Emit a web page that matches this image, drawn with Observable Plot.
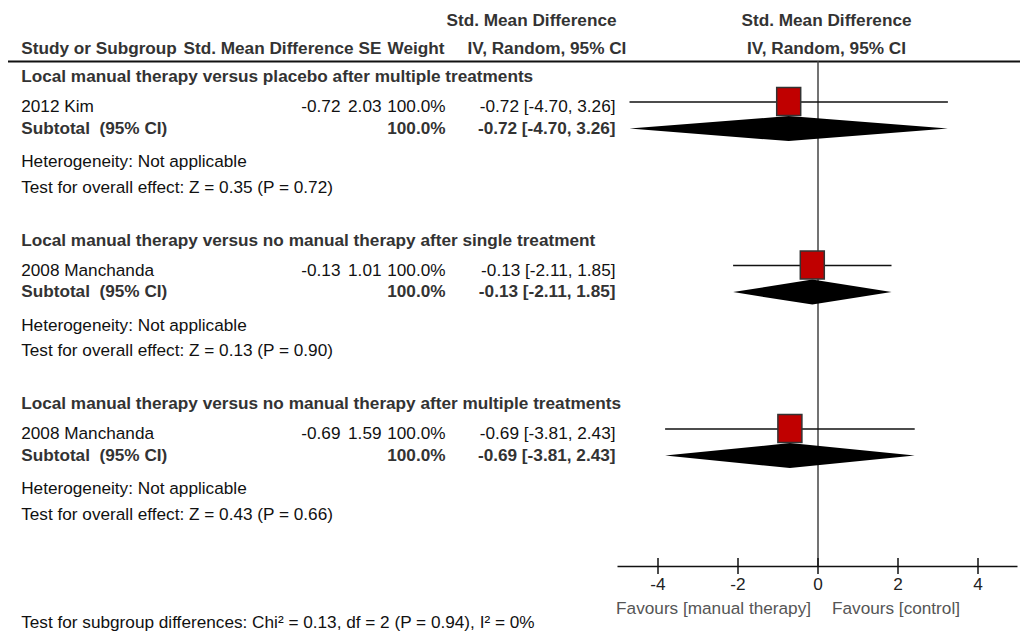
<!DOCTYPE html>
<html><head><meta charset="utf-8">
<script src="https://cdn.jsdelivr.net/npm/d3@7"></script>
<script src="https://cdn.jsdelivr.net/npm/@observablehq/plot@0.6"></script>
<style>body{margin:0;background:#fff}svg{display:block}</style>
</head><body><div id="chart"></div>
<script>
// ---------- data ----------
const groupTitles = [
  "Local manual therapy versus placebo after multiple treatments",
  "Local manual therapy versus no manual therapy after single treatment",
  "Local manual therapy versus no manual therapy after multiple treatments"
];
const studyNames = ["2012 Kim", "2008 Manchanda", "2008 Manchanda"];
const studySMD = [-0.72, -0.13, -0.69];
const studySE = [2.03, 1.01, 1.59];
const studyWeight = [100.0, 100.0, 100.0];
const studyLow = [-4.70, -2.11, -3.81];
const studyHigh = [3.26, 1.85, 2.43];
const subtotalWeight = [100.0, 100.0, 100.0];
const subtotalSMD = [-0.72, -0.13, -0.69];
const subtotalLow = [-4.70, -2.11, -3.81];
const subtotalHigh = [3.26, 1.85, 2.43];
const heterogeneity = ["Not applicable", "Not applicable", "Not applicable"];
const overallZ = [0.35, 0.13, 0.43];
const overallP = [0.72, 0.90, 0.66];
const axisTicks = [-4, -2, 0, 2, 4];
const axisDomain = [-5, 5];
const favoursLeft = "Favours [manual therapy]";
const favoursRight = "Favours [control]";
const subgroupChi2 = 0.13, subgroupDf = 2, subgroupP = 0.94, subgroupI2 = 0;

// ---------- layout ----------
const W = 1020, H = 633, LEFT = 8;
const FONT = "'Liberation Sans', Arial, sans-serif", FS = 17.2;
const ROW = {h1: 20, h2: 48, rule: 61, first: 76, step: 163.5,
  study: 30, ciLine: 25.5, subtotal: 51.5, diamond: 52.6, het: 85, test: 110.5,
  axis: 566, tickLabel: 584, favours: 608, footer: 622};
const COL = {name: 20.7, smd: 340, se: 381, weight: 445, ci: 615,
  hSmd: 183, hSE: 358, hWeight: 387, hCI1: 446, hCI2: 467, hPlot: 826};
const f2 = v => v.toFixed(2);
const pct = v => v.toFixed(1) + "%";
const ciText = (e, l, h) => `${f2(e)} [${f2(l)}, ${f2(h)}]`;

const cells = [];
const add = (col, anchor, y, text, bold) => cells.push({col, anchor, y, text, bold});
add("hCI1", "start", ROW.h1, "Std. Mean Difference", true);
add("hPlot", "middle", ROW.h1, "Std. Mean Difference", true);
add("name", "start", ROW.h2, "Study or Subgroup", true);
add("hSmd", "start", ROW.h2, "Std. Mean Difference", true);
add("hSE", "start", ROW.h2, "SE", true);
add("hWeight", "start", ROW.h2, "Weight", true);
add("hCI2", "start", ROW.h2, "IV, Random, 95% CI", true);
add("hPlot", "middle", ROW.h2, "IV, Random, 95% CI", true);

const studies = [], subtotals = [];
groupTitles.forEach((t, g) => {
  const top = ROW.first + g * ROW.step;
  add("name", "start", top, t, true);
  add("name", "start", top + ROW.study, studyNames[g], false);
  add("smd", "end", top + ROW.study, f2(studySMD[g]), false);
  add("se", "end", top + ROW.study, f2(studySE[g]), false);
  add("weight", "end", top + ROW.study, pct(studyWeight[g]), false);
  add("ci", "end", top + ROW.study, ciText(studySMD[g], studyLow[g], studyHigh[g]), false);
  add("name", "start", top + ROW.subtotal, "Subtotal  (95% CI)", true);
  add("weight", "end", top + ROW.subtotal, pct(subtotalWeight[g]), true);
  add("ci", "end", top + ROW.subtotal, ciText(subtotalSMD[g], subtotalLow[g], subtotalHigh[g]), true);
  add("name", "start", top + ROW.het, "Heterogeneity: " + heterogeneity[g], false);
  add("name", "start", top + ROW.test, `Test for overall effect: Z = ${f2(overallZ[g])} (P = ${f2(overallP[g])})`, false);
  studies.push({g, est: studySMD[g], lo: studyLow[g], hi: studyHigh[g], y: top + ROW.ciLine});
  subtotals.push({g, est: subtotalSMD[g], lo: subtotalLow[g], hi: subtotalHigh[g], y: top + ROW.diamond});
});
add("name", "start", ROW.footer,
  `Test for subgroup differences: Chi² = ${f2(subgroupChi2)}, df = ${subgroupDf} (P = ${f2(subgroupP)}), I² = ${subgroupI2}%`, false);

const DH = 12.5; // diamond half-height
const diamondPts = subtotals.flatMap(d => [
  {g: d.g, x: d.lo, y1: d.y, y2: d.y},
  {g: d.g, x: d.est, y1: d.y - DH, y2: d.y + DH},
  {g: d.g, x: d.hi, y1: d.y, y2: d.y}
]);

const textMarks = d3.groups(cells, d => d.col + "|" + d.bold + "|" + d.anchor).map(([k, arr]) => {
  const c = arr[0];
  return Plot.text(arr, {
    y: "y", text: "text", frameAnchor: "left", dx: COL[c.col] - LEFT,
    textAnchor: c.anchor, lineAnchor: "middle",
    fontWeight: c.bold ? "bold" : "normal", fill: c.bold ? "#333" : "#111",
    fontSize: FS, fontFamily: FONT
  });
});

const chart = Plot.plot({
  width: W, height: H,
  marginLeft: LEFT, marginRight: 0, marginTop: 0, marginBottom: 0,
  style: {fontFamily: FONT, background: "#fff"},
  x: {domain: axisDomain, range: [617.5, 1017.5], axis: null},
  y: {type: "identity", axis: null},
  marks: [
    Plot.ruleY([ROW.rule], {stroke: "#111", strokeWidth: 2}),
    Plot.ruleX([0], {y1: ROW.rule, y2: ROW.axis, stroke: "#444", strokeWidth: 1.5}),
    Plot.ruleY(studies, {x1: "lo", x2: "hi", y: "y", stroke: "#111", strokeWidth: 1.5}),
    Plot.areaY(diamondPts, {x: "x", y1: "y1", y2: "y2", z: "g", fill: "#000", curve: "linear"}),
    Plot.rect(studies, {x1: "est", x2: "est", y1: d => d.y - 14, y2: d => d.y + 14,
      insetLeft: -12, insetRight: -12, fill: "#c00000", stroke: "#333", strokeWidth: 1.5}),
    Plot.ruleY([ROW.axis], {x1: axisDomain[0], x2: axisDomain[1], stroke: "#111", strokeWidth: 1.5}),
    Plot.ruleX(axisTicks, {x: d => d, y1: ROW.axis - 8, y2: ROW.axis + 8, stroke: "#111", strokeWidth: 1.5}),
    Plot.text(axisTicks, {x: d => d, y: ROW.tickLabel, text: d => String(d), fontSize: FS, fill: "#222", lineAnchor: "middle"}),
    Plot.text([favoursLeft], {x: 0, y: ROW.favours, text: d => d, dx: -7, textAnchor: "end", fontSize: FS, fill: "#555", lineAnchor: "middle"}),
    Plot.text([favoursRight], {x: 0, y: ROW.favours, text: d => d, dx: 14, textAnchor: "start", fontSize: FS, fill: "#555", lineAnchor: "middle"}),
    ...textMarks
  ]
});
document.getElementById("chart").appendChild(chart);
</script>
</body></html>
